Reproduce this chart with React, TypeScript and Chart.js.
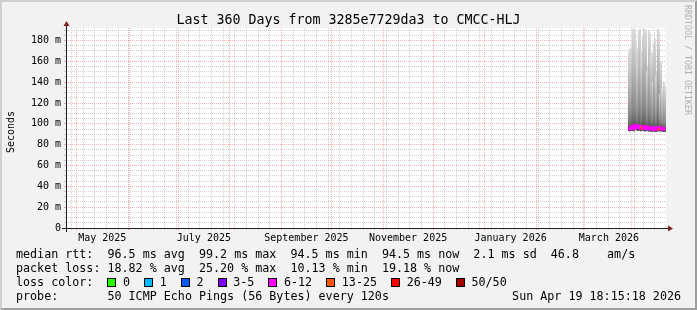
import React, { useEffect, useRef } from 'react';
import { Chart, registerables } from 'chart.js';

Chart.register(...registerables);

// ---------- data ----------
const DAY_MS = 86400000;
const END_TIME = Date.UTC(2026, 3, 19, 18, 15, 18);
const SPAN_DAYS = 360;
const START_TIME = END_TIME - SPAN_DAYS * DAY_MS;

const TITLE = 'Last 360 Days from 3285e7729da3 to CMCC-HLJ';
const Y_TITLE = 'Seconds';
const WATERMARK = 'RRDTOOL / TOBI OETIKER';

const Y_MAX = 192;
const Y_TICK_VALUES = [0, 20, 40, 60, 80, 100, 120, 140, 160, 180];
const Y_TICK_LABELS = ['0', '20 m', '40 m', '60 m', '80 m', '100 m', '120 m', '140 m', '160 m', '180 m'];
const Y_MINOR_STEP = 5;

const MONTH_LABELS = ['May 2025', 'July 2025', 'September 2025', 'November 2025', 'January 2026', 'March 2026'];
const MONTH_LABEL_YM = [[2025, 4], [2025, 6], [2025, 8], [2025, 10], [2026, 0], [2026, 2]];

// smoke samples (one per 14.4 h, starting Mar 28 2026 12:00)
const SMOKE_START = Date.UTC(2026, 2, 28, 12, 0, 0);
const SMOKE_STEP_HOURS = 14.4;
const SMOKE_MIN = [93.4, 93.0, 93.8, 94.1, 93.5, 93.1, 94.4, 94.6, 93.9, 93.6, 94.2, 93.9, 93.2, 93.7, 94.0, 93.5, 92.9, 93.6, 94.0, 93.3, 93.0, 93.4, 92.8, 92.6, 93.0, 93.4, 92.7, 92.5, 92.9, 93.6, 93.2, 92.9, 93.4, 93.1, 92.6, 92.9, 92.5];
const SMOKE_MEDIAN = [96.0, 95.2, 96.8, 97.4, 96.1, 95.5, 97.9, 98.3, 97.0, 96.4, 97.6, 96.9, 95.8, 96.7, 97.3, 96.2, 95.4, 96.6, 97.1, 96.0, 95.6, 96.3, 95.1, 94.8, 95.5, 96.2, 95.0, 94.6, 95.3, 96.4, 95.9, 95.2, 96.1, 95.7, 94.9, 95.4, 94.7];
const SMOKE_Q75 = [106, 109, 104, 110, 116, 112, 115, 110, 108, 104, 114, 116, 108, 106, 112, 118, 114, 115, 103, 105, 113, 112, 107, 108, 102, 110, 111, 103, 104, 115, 113, 101, 105, 101, 100, 102, 101];
const SMOKE_Q90 = [128, 134, 126, 136, 150, 142, 148, 138, 132, 124, 146, 150, 134, 128, 142, 152, 146, 148, 122, 126, 144, 142, 130, 132, 118, 138, 140, 120, 122, 148, 144, 112, 126, 114, 112, 118, 116];
const SMOKE_MAX = [168, 172, 160, 174, 191, 186, 190, 178, 172, 158, 189, 191, 170, 164, 184, 192, 188, 190, 150, 156, 189, 186, 164, 168, 140, 178, 182, 146, 150, 191, 188, 128, 160, 134, 132, 140, 136];
const LOSS_PINGS = [9, 10, 8, 11, 9, 12, 10, 9, 8, 11, 10, 9, 13, 10, 9, 11, 8, 10, 9, 12, 10, 9, 11, 10, 9, 8, 10, 9, 11, 10, 14, 9, 12, 10, 9, 11, 10];

const LOSS_UPPER = [0, 1, 2, 5, 12, 25, 49, 50];
const LOSS_COLORS = ['#26ff00', '#00b8ff', '#0059ff', '#7e00ff', '#ff00ff', '#ff5500', '#ff0000', '#a00000'];
const LOSS_LABELS = ['0', '1', '2', '3-5', '6-12', '13-25', '26-49', '50/50'];

const LEGEND_RTT = 'median rtt:  96.5 ms avg  99.2 ms max  94.5 ms min  94.5 ms now  2.1 ms sd  46.8    am/s';
const LEGEND_LOSS = 'packet loss: 18.82 % avg  25.20 % max  10.13 % min  19.18 % now';
const LOSSCOLOR_LABEL = 'loss color:';
const PROBE_LABEL = 'probe:';
const PROBE_TEXT = '50 ICMP Echo Pings (56 Bytes) every 120s';
const DATE_TEXT = 'Sun Apr 19 18:15:18 2026';

// ---------- styling ----------
const MONO = '"DejaVu Sans Mono", monospace';
const BACK = '#f2f2f2';
const SHADE_A = '#cfcfcf';
const SHADE_B = '#9e9e9e';
const GRID = 'rgba(143,143,143,0.42)';
const MGRID = 'rgba(230,70,70,0.42)';
const AXIS = '#1f1f1f';
const ARROW = '#801f1f';

function lossColor(p: number) {
  for (let k = 0; k < LOSS_UPPER.length; k++) if (p <= LOSS_UPPER[k]) return LOSS_COLORS[k];
  return LOSS_COLORS[LOSS_COLORS.length - 1];
}

const rrdPlugin = {
  id: 'rrdLook',
  beforeDraw(chart: any) {
    const { ctx, chartArea: a, width: w, height: h } = chart;
    ctx.save();
    ctx.fillStyle = BACK;
    ctx.fillRect(0, 0, w, h);
    ctx.fillStyle = SHADE_A;
    ctx.beginPath();
    ctx.moveTo(0, h); ctx.lineTo(2, h - 2); ctx.lineTo(2, 2); ctx.lineTo(w - 2, 2); ctx.lineTo(w, 0); ctx.lineTo(0, 0);
    ctx.closePath(); ctx.fill();
    ctx.fillStyle = SHADE_B;
    ctx.beginPath();
    ctx.moveTo(2, h - 2); ctx.lineTo(w - 2, h - 2); ctx.lineTo(w - 2, 2); ctx.lineTo(w, 0); ctx.lineTo(w, h); ctx.lineTo(0, h);
    ctx.closePath(); ctx.fill();
    ctx.fillStyle = '#ffffff';
    ctx.fillRect(a.left, a.top, a.right - a.left, a.bottom - a.top);
    ctx.restore();
  },
  afterDraw(chart: any) {
    const { ctx, chartArea: a } = chart;
    ctx.save();
    // axes
    ctx.strokeStyle = AXIS;
    ctx.lineWidth = 1;
    ctx.beginPath();
    ctx.moveTo(a.left - 4, a.bottom + 0.5); ctx.lineTo(a.right + 4, a.bottom + 0.5);
    ctx.moveTo(a.left + 0.5, a.bottom + 4); ctx.lineTo(a.left + 0.5, a.top - 4);
    ctx.stroke();
    ctx.fillStyle = ARROW;
    ctx.beginPath();
    ctx.moveTo(a.right + 2, a.bottom + 0.5 - 3); ctx.lineTo(a.right + 2, a.bottom + 0.5 + 3); ctx.lineTo(a.right + 7, a.bottom + 0.5);
    ctx.closePath(); ctx.fill();
    ctx.beginPath();
    ctx.moveTo(a.left + 0.5 - 3, a.top - 2); ctx.lineTo(a.left + 0.5 + 3, a.top - 2); ctx.lineTo(a.left + 0.5, a.top - 7);
    ctx.closePath(); ctx.fill();

    // title
    ctx.fillStyle = '#000';
    ctx.textBaseline = 'alphabetic';
    ctx.textAlign = 'center';
    ctx.font = `13.3px ${MONO}`;
    ctx.fillText(TITLE, 348.5, 24);

    // y title
    ctx.save();
    ctx.translate(14, 132);
    ctx.rotate(-Math.PI / 2);
    ctx.font = `10px ${MONO}`;
    ctx.textAlign = 'center';
    ctx.fillText(Y_TITLE, 0, 0);
    ctx.restore();

    // watermark
    ctx.save();
    ctx.translate(685, 5);
    ctx.rotate(Math.PI / 2);
    ctx.font = `8.3px ${MONO}`;
    ctx.fillStyle = '#b0b0b0';
    ctx.textAlign = 'left';
    ctx.fillText(WATERMARK, 0, 0);
    ctx.restore();

    // legend
    ctx.font = `11.7px ${MONO}`;
    ctx.textAlign = 'left';
    ctx.fillStyle = '#000';
    const rows = [258, 272, 286, 300];
    ctx.fillText(LEGEND_RTT, 16, rows[0]);
    ctx.fillText(LEGEND_LOSS, 16, rows[1]);
    ctx.fillText(LOSSCOLOR_LABEL, 16, rows[2]);
    const cw = ctx.measureText('0').width;
    let x = 16 + 13 * cw;
    LOSS_LABELS.forEach((lab, i) => {
      const bx = Math.round(x);
      ctx.fillStyle = LOSS_COLORS[i];
      ctx.fillRect(bx, 278, 9, 9);
      ctx.strokeStyle = '#000';
      ctx.lineWidth = 1;
      ctx.strokeRect(bx + 0.5, 278.5, 8, 8);
      ctx.fillStyle = '#000';
      const lx = x + 15.6;
      ctx.fillText(lab, lx, rows[2]);
      x = lx + ctx.measureText(lab).width + 2 * cw;
    });
    ctx.fillText(PROBE_LABEL, 16, rows[3]);
    ctx.fillText(PROBE_TEXT, 16 + 13 * cw, rows[3]);
    ctx.textAlign = 'right';
    ctx.fillText(DATE_TEXT, 681, rows[3]);
    ctx.restore();
  },
};

export default function App() {
  const ref = useRef<HTMLCanvasElement>(null);

  useEffect(() => {
    const canvas = ref.current;
    if (!canvas) return;

    const xs = SMOKE_MIN.map((_, i) => SMOKE_START + i * SMOKE_STEP_HOURS * 3600000);

    const monthStarts: number[] = [];
    for (let k = 0; k < 13; k++) {
      const t = Date.UTC(2025, 4 + k, 1);
      if (t > START_TIME && t < END_TIME) monthStarts.push(t);
    }
    const monthSet = new Set(monthStarts);
    const weekLines: number[] = [];
    for (let t = Date.UTC(2025, 3, 28); t < END_TIME; t += 7 * DAY_MS) {
      if (t > START_TIME && !monthSet.has(t)) weekLines.push(t);
    }
    const xGridTicks = [...monthStarts, ...weekLines].sort((p, q) => p - q);
    const labelTicks = MONTH_LABEL_YM.map(([y, m]) => (Date.UTC(y, m, 1) + Date.UTC(y, m + 1, 1)) / 2);
    const yTicks: number[] = [];
    for (let v = 0; v <= Y_MAX; v += Y_MINOR_STEP) yTicks.push(v);

    const smokeColor = (c: any) => {
      const i = c.dataIndex;
      const ys = c.chart.scales && c.chart.scales.y;
      if (!ys || i == null) return '#888888';
      const lo = SMOKE_MIN[i];
      const hi = SMOKE_MAX[i];
      const y0 = ys.getPixelForValue(lo);
      const y1 = ys.getPixelForValue(hi);
      if (!isFinite(y0) || !isFinite(y1) || y0 === y1) return '#888888';
      const g = c.chart.ctx.createLinearGradient(0, y0, 0, y1);
      const f = (v: number) => Math.min(1, Math.max(0, (v - lo) / (hi - lo)));
      g.addColorStop(0, '#4c4c4c');
      g.addColorStop(f(SMOKE_MEDIAN[i]), '#555555');
      g.addColorStop(f(SMOKE_Q75[i]), '#878787');
      g.addColorStop(f(SMOKE_Q90[i]), '#afafaf');
      g.addColorStop(1, '#dadada');
      return g;
    };

    const chart = new Chart(canvas, {
      type: 'bar',
      data: {
        datasets: [
          {
            type: 'line',
            label: 'median',
            data: xs.map((x, i) => ({ x, y: SMOKE_MEDIAN[i] })),
            xAxisID: 'x',
            yAxisID: 'y',
            borderWidth: 3,
            borderColor: LOSS_COLORS[4],
            pointRadius: 0,
            stepped: 'middle',
            fill: false,
            order: 0,
            segment: {
              borderColor: (s: any) => lossColor(LOSS_PINGS[s.p0DataIndex]),
            },
          } as any,
          {
            type: 'bar',
            label: 'smoke',
            data: xs.map((x, i) => ({ x, y: [SMOKE_MIN[i], SMOKE_MAX[i]] })),
            xAxisID: 'x',
            yAxisID: 'y',
            backgroundColor: smokeColor,
            borderWidth: 0,
            barThickness: 1.4,
            grouped: false,
            order: 1,
          } as any,
        ],
      },
      options: {
        responsive: false,
        devicePixelRatio: 1,
        animation: false,
        events: [],
        layout: { padding: { top: 28, right: 31, bottom: 62, left: 0 } },
        plugins: { legend: { display: false }, tooltip: { enabled: false }, title: { display: false } },
        scales: {
          x: {
            type: 'linear',
            position: 'bottom',
            min: START_TIME,
            max: END_TIME,
            offset: false,
            z: 1,
            afterBuildTicks: (s: any) => { s.ticks = xGridTicks.map((v) => ({ value: v })); },
            afterFit: (s: any) => { s.height = 0; },
            ticks: { display: false, autoSkip: false },
            grid: {
              offset: false,
              drawOnChartArea: true,
              drawTicks: true,
              tickLength: 2,
              color: (c: any) => (c.tick && monthSet.has(c.tick.value) ? MGRID : GRID),
              tickColor: (c: any) => (c.tick && monthSet.has(c.tick.value) ? MGRID : GRID),
            },
            border: { display: false, dash: [1, 1] },
          },
          xl: {
            type: 'linear',
            position: 'bottom',
            min: START_TIME,
            max: END_TIME,
            offset: false,
            afterBuildTicks: (s: any) => { s.ticks = labelTicks.map((v) => ({ value: v })); },
            afterFit: (s: any) => { s.height = 20; },
            ticks: {
              autoSkip: false,
              maxRotation: 0,
              minRotation: 0,
              padding: 4,
              color: '#000',
              font: { family: MONO, size: 10 },
              callback: (_v: any, i: number) => MONTH_LABELS[i],
            },
            grid: { display: false, offset: false, drawTicks: false },
            border: { display: false },
          },
          y: {
            type: 'linear',
            position: 'left',
            min: 0,
            max: Y_MAX,
            z: 1,
            afterBuildTicks: (s: any) => { s.ticks = yTicks.map((v) => ({ value: v })); },
            afterFit: (s: any) => { s.width = 66; },
            ticks: {
              autoSkip: false,
              padding: 3,
              color: '#000',
              font: { family: MONO, size: 10 },
              callback: (v: any) => {
                const k = Y_TICK_VALUES.indexOf(Number(v));
                return k >= 0 ? Y_TICK_LABELS[k] : '';
              },
            },
            grid: {
              drawTicks: true,
              tickLength: 2,
              color: (c: any) => (c.tick && c.tick.value % 20 === 0 ? MGRID : GRID),
              tickColor: (c: any) => (c.tick && c.tick.value % 20 === 0 ? MGRID : GRID),
            },
            border: { display: false, dash: [1, 1] },
          },
        },
      } as any,
      plugins: [rrdPlugin],
    });

    return () => chart.destroy();
  }, []);

  return (
    <div style={{ position: 'fixed', left: 0, top: 0, width: 697, height: 310 }}>
      <canvas ref={ref} width={697} height={310} style={{ display: 'block', width: 697, height: 310 }} />
    </div>
  );
}
